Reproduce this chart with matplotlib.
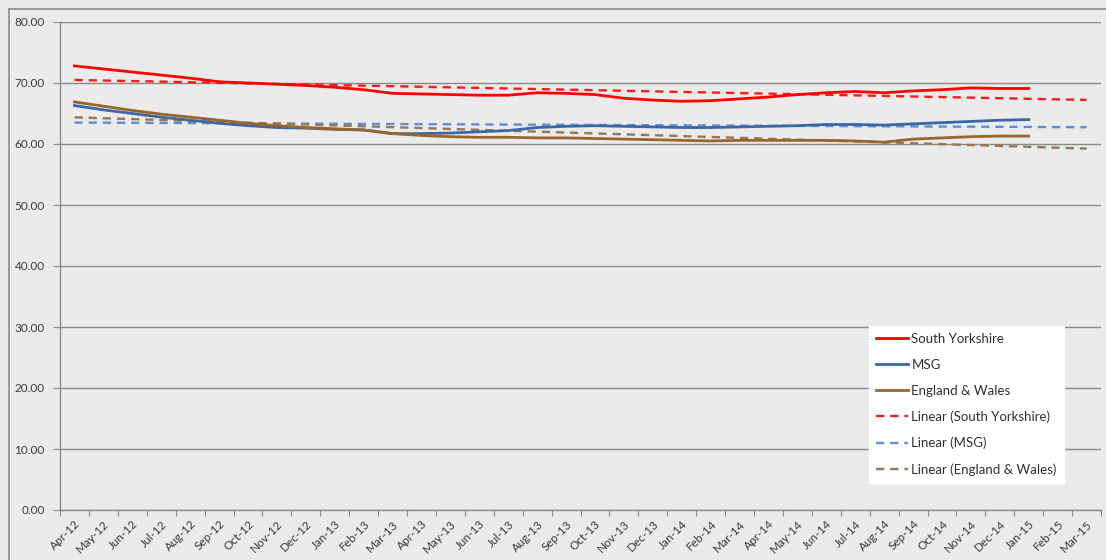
import numpy as np
import matplotlib
matplotlib.use("Agg")
import matplotlib.pyplot as plt

months = ["Apr-12", "May-12", "Jun-12", "Jul-12", "Aug-12", "Sep-12", "Oct-12", "Nov-12",
          "Dec-12", "Jan-13", "Feb-13", "Mar-13", "Apr-13", "May-13", "Jun-13", "Jul-13",
          "Aug-13", "Sep-13", "Oct-13", "Nov-13", "Dec-13", "Jan-14", "Feb-14", "Mar-14",
          "Apr-14", "May-14", "Jun-14", "Jul-14", "Aug-14", "Sep-14", "Oct-14", "Nov-14",
          "Dec-14", "Jan-15", "Feb-15", "Mar-15"]

# monthly values up to Jan-15
south_yorkshire = [72.8, 72.3, 71.8, 71.3, 70.8, 70.2, 70.0, 69.8, 69.6, 69.3, 68.9, 68.3,
                   68.2, 68.1, 68.0, 68.0, 68.4, 68.3, 68.1, 67.5, 67.2, 67.0, 67.1, 67.4,
                   67.7, 68.1, 68.4, 68.6, 68.4, 68.7, 68.9, 69.2, 69.1, 69.1]
msg = [66.3, 65.6, 65.0, 64.4, 63.9, 63.4, 63.0, 62.7, 62.6, 62.4, 62.3, 61.7,
       61.7, 61.8, 62.0, 62.2, 62.7, 62.9, 63.0, 62.9, 62.8, 62.7, 62.7, 62.8,
       62.9, 63.0, 63.2, 63.2, 63.1, 63.3, 63.5, 63.7, 63.9, 64.0]
england_wales = [66.9, 66.2, 65.5, 64.9, 64.4, 63.9, 63.4, 63.0, 62.7, 62.5, 62.3, 61.7,
                 61.4, 61.2, 61.1, 61.1, 61.0, 61.0, 60.9, 60.8, 60.7, 60.6, 60.5, 60.6,
                 60.6, 60.6, 60.6, 60.5, 60.3, 60.8, 61.0, 61.2, 61.3, 61.3]

series = [
    ("South Yorkshire", south_yorkshire, "#ff0000", "#ff1a1a"),
    ("MSG", msg, "#3d67a3", "#5b8fdb"),
    ("England & Wales", england_wales, "#98652b", "#9a7752"),
]

bg = "#ebebeb"
plt.rcParams["font.family"] = ["Lato", "DejaVu Sans"]

fig = plt.figure(figsize=(11.06, 5.6), dpi=100, facecolor=bg)
ax = fig.add_axes([60 / 1106, 1 - 510 / 560, 1041 / 1106, 488 / 560])
ax.set_facecolor(bg)

# frame lines along the top and left edge of the chart area
fig.add_artist(plt.Line2D([9 / 1106, 1], [1 - 9 / 560] * 2, color="#8c8c8c", lw=1.2))
fig.add_artist(plt.Line2D([9 / 1106] * 2, [0, 1 - 9 / 560], color="#8c8c8c", lw=1.2))

x_all = np.arange(len(months))
handles = []
for name, vals, col, _ in series:
    x = np.arange(len(vals))
    h, = ax.plot(x, vals, color=col, lw=2.0, label=name, zorder=3)
    handles.append(h)

# linear trendlines, forecast two months ahead
for name, vals, _, tcol in series:
    x = np.arange(len(vals))
    k, b = np.polyfit(x, vals, 1)
    h, = ax.plot(x_all, k * x_all + b, color=tcol, lw=1.7, ls=(0, (3.5, 2.5)),
                 label=f"Linear ({name})", zorder=2)
    handles.append(h)

ax.set_xlim(-0.5, len(months) - 0.5)
ax.set_ylim(0, 80)
ax.set_yticks(np.arange(0, 81, 10))
ax.set_yticklabels([f"{v:.2f}" for v in range(0, 81, 10)])
ax.yaxis.grid(True, color="#8a8a8a", lw=1.0)
ax.set_axisbelow(True)

# tick marks between categories, labels at category centres
ax.set_xticks(np.arange(-0.5, len(months), 1.0))
ax.set_xticklabels([])
ax.set_xticks(x_all, minor=True)
ax.set_xticklabels(months, minor=True, rotation=45, ha="right", rotation_mode="anchor")
ax.tick_params(axis="x", which="minor", length=0, pad=6, labelsize=8.5, colors="#3a3a3a")
ax.tick_params(axis="x", which="major", length=4, color="#8a8a8a")
ax.tick_params(axis="y", length=5, color="#8a8a8a", labelsize=8.5, labelcolor="#3a3a3a", pad=6)

for s in ["top", "right"]:
    ax.spines[s].set_visible(False)
for s in ["left", "bottom"]:
    ax.spines[s].set_color("#8a8a8a")
    ax.spines[s].set_linewidth(1.0)

leg = ax.legend(handles=handles, loc="upper left", bbox_to_anchor=(862 / 1106, 1 - 319 / 560),
                bbox_transform=fig.transFigure, frameon=True, fancybox=False, fontsize=9.5,
                handlelength=2.4, handletextpad=0.3, labelspacing=1.05, borderpad=0.55,
                labelcolor="#303030")
leg.get_frame().set_facecolor("white")
leg.get_frame().set_edgecolor("white")
leg.get_frame().set_alpha(1)

fig.savefig("out.png", dpi=100, facecolor=bg)
